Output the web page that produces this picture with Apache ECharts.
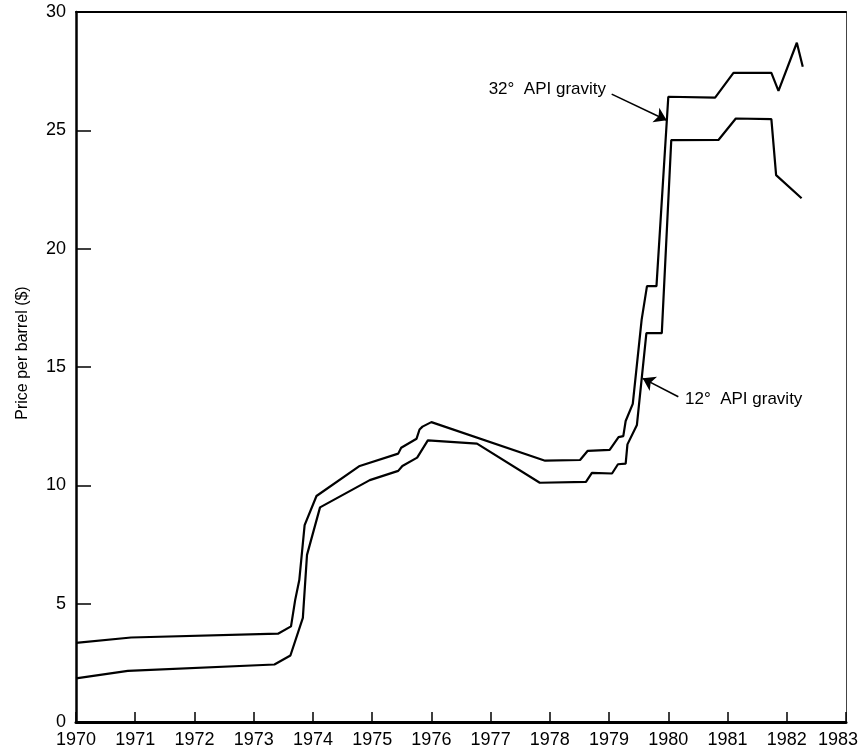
<!DOCTYPE html>
<html>
<head>
<meta charset="utf-8">
<script src="https://cdn.jsdelivr.net/npm/echarts@6/dist/echarts.min.js"></script>
<style>
html,body{margin:0;padding:0;background:#fff;}
#chart{width:862px;height:753px;}
</style>
</head>
<body>
<div id="chart"></div>
<script>
// 32° API gravity crude price
var years32 = [1970.0, 1970.93, 1973.41, 1973.63, 1973.70, 1973.77, 1973.86, 1974.06, 1974.79, 1975.44, 1975.49, 1975.75, 1975.80, 1975.85, 1976.00, 1977.92, 1978.51, 1978.64, 1979.01, 1979.16, 1979.24, 1979.28, 1979.40, 1979.55, 1979.64, 1979.80, 1980.00, 1980.79, 1981.10, 1981.74, 1981.86, 1982.17, 1982.27];
var price32 = [3.34, 3.57, 3.73, 4.04, 5.15, 6.0, 8.32, 9.55, 10.82, 11.34, 11.59, 11.97, 12.36, 12.48, 12.67, 11.04, 11.07, 11.46, 11.50, 12.04, 12.08, 12.72, 13.44, 17.0, 18.42, 18.42, 26.42, 26.38, 27.43, 27.43, 26.67, 28.7, 27.69];
// 12° API gravity crude price
var years12 = [1970.0, 1970.875, 1973.35, 1973.62, 1973.83, 1973.90, 1974.12, 1974.96, 1975.44, 1975.51, 1975.76, 1975.94, 1976.77, 1977.83, 1978.61, 1978.71, 1979.05, 1979.15, 1979.28, 1979.31, 1979.47, 1979.63, 1979.89, 1980.05, 1980.85, 1981.14, 1981.74, 1981.82, 1982.25];
var price12 = [1.84, 2.16, 2.43, 2.81, 4.4, 7.06, 9.07, 10.22, 10.61, 10.82, 11.17, 11.90, 11.76, 10.11, 10.15, 10.53, 10.50, 10.89, 10.92, 11.73, 12.55, 16.43, 16.43, 24.59, 24.60, 25.50, 25.47, 23.11, 22.13];
// axis ticks
var xMin = 1970, xMax = 1983, xStep = 1;
var yMin = 0, yMax = 30, yStep = 5;
// annotations (data coordinates)
var label32 = "32\u00B0  API gravity";
var label12 = "12\u00B0  API gravity";
var arrow32 = [[1979.044, 26.53], [1979.973, 25.43]];
var arrow12 = [[1980.169, 13.74], [1979.568, 14.52]];
var text32Pos = [1978.948, 26.74];
var text12Pos = [1980.282, 13.65];

function pairs(xs, ys) { return xs.map(function (x, i) { return [x, ys[i]]; }); }

var FONT = 'Liberation Sans, Arial, sans-serif';
var chart = echarts.init(document.getElementById('chart'), null, {renderer: 'canvas'});

function arrowLine(a) {
  return [{coord: a[0]}, {coord: a[1]}];
}

var option = {
  backgroundColor: '#fff',
  animation: false,
  grid: {left: 76, right: 16, top: 12, bottom: 31, containLabel: false, outerBoundsMode: 'none'},
  xAxis: [{
    type: 'value', min: xMin, max: xMax, interval: xStep,
    axisLine: {show: true, onZero: false, lineStyle: {color: '#000', width: 3}},
    axisTick: {show: true, inside: true, length: 10, lineStyle: {color: '#000', width: 1.5}},
    axisLabel: {color: '#000', fontSize: 18, fontFamily: FONT, margin: 9,
      formatter: function (v) {
        var s = String(Math.round(v));
        return v >= xMax ? '{last|' + s + '}' : s;
      },
      rich: {last: {color: '#000', fontSize: 18, fontFamily: FONT, padding: [0, 16, 0, 0]}}
    },
    splitLine: {show: false}
  }, {
    type: 'value', position: 'top', min: xMin, max: xMax, interval: xStep,
    axisLine: {show: true, onZero: false, lineStyle: {color: '#000', width: 2}},
    axisTick: {show: false}, axisLabel: {show: false}, splitLine: {show: false}
  }],
  yAxis: [{
    type: 'value', min: yMin, max: yMax, interval: yStep,
    name: 'Price per barrel ($)', nameLocation: 'middle', nameGap: 45, nameRotate: 90,
    nameTextStyle: {color: '#000', fontSize: 16, fontFamily: FONT, padding: [0, 0, 0, 28]},
    axisLine: {show: true, onZero: false, lineStyle: {color: '#000', width: 2.5}},
    axisTick: {show: true, inside: true, length: 15, lineStyle: {color: '#000', width: 1.5}},
    axisLabel: {color: '#000', fontSize: 18, fontFamily: FONT, margin: 10},
    splitLine: {show: false}
  }, {
    type: 'value', position: 'right', min: yMin, max: yMax, interval: yStep,
    axisLine: {show: true, onZero: false, lineStyle: {color: '#444', width: 1}},
    axisTick: {show: false}, axisLabel: {show: false}, splitLine: {show: false}
  }],
  series: [{
    name: '32° API gravity', type: 'line', xAxisIndex: 0, yAxisIndex: 0,
    data: pairs(years32, price32), showSymbol: false, symbol: 'none',
    lineStyle: {color: '#000', width: 2.2},
    markLine: {
      silent: true, symbol: ['none', 'arrow'], symbolSize: 12,
      itemStyle: {color: '#000'},
      lineStyle: {color: '#000', width: 1.6, type: 'solid'}, label: {show: false},
      data: [arrowLine(arrow32)]
    }
  }, {
    name: '12° API gravity', type: 'line', xAxisIndex: 0, yAxisIndex: 0,
    data: pairs(years12, price12), showSymbol: false, symbol: 'none',
    lineStyle: {color: '#000', width: 2.2},
    markLine: {
      silent: true, symbol: ['none', 'arrow'], symbolSize: 12,
      itemStyle: {color: '#000'},
      lineStyle: {color: '#000', width: 1.6, type: 'solid'}, label: {show: false},
      data: [arrowLine(arrow12)]
    }
  }]
};
chart.setOption(option);

var p32 = chart.convertToPixel({xAxisIndex: 0, yAxisIndex: 0}, text32Pos);
var p12 = chart.convertToPixel({xAxisIndex: 0, yAxisIndex: 0}, text12Pos);
chart.setOption({
  graphic: [{
    type: 'text', x: p32[0], y: p32[1],
    style: {text: label32, fill: '#000', font: '17px ' + FONT, textAlign: 'right', textVerticalAlign: 'middle'}
  }, {
    type: 'text', x: p12[0], y: p12[1],
    style: {text: label12, fill: '#000', font: '17px ' + FONT, textAlign: 'left', textVerticalAlign: 'middle'}
  }]
});
</script>
</body>
</html>
